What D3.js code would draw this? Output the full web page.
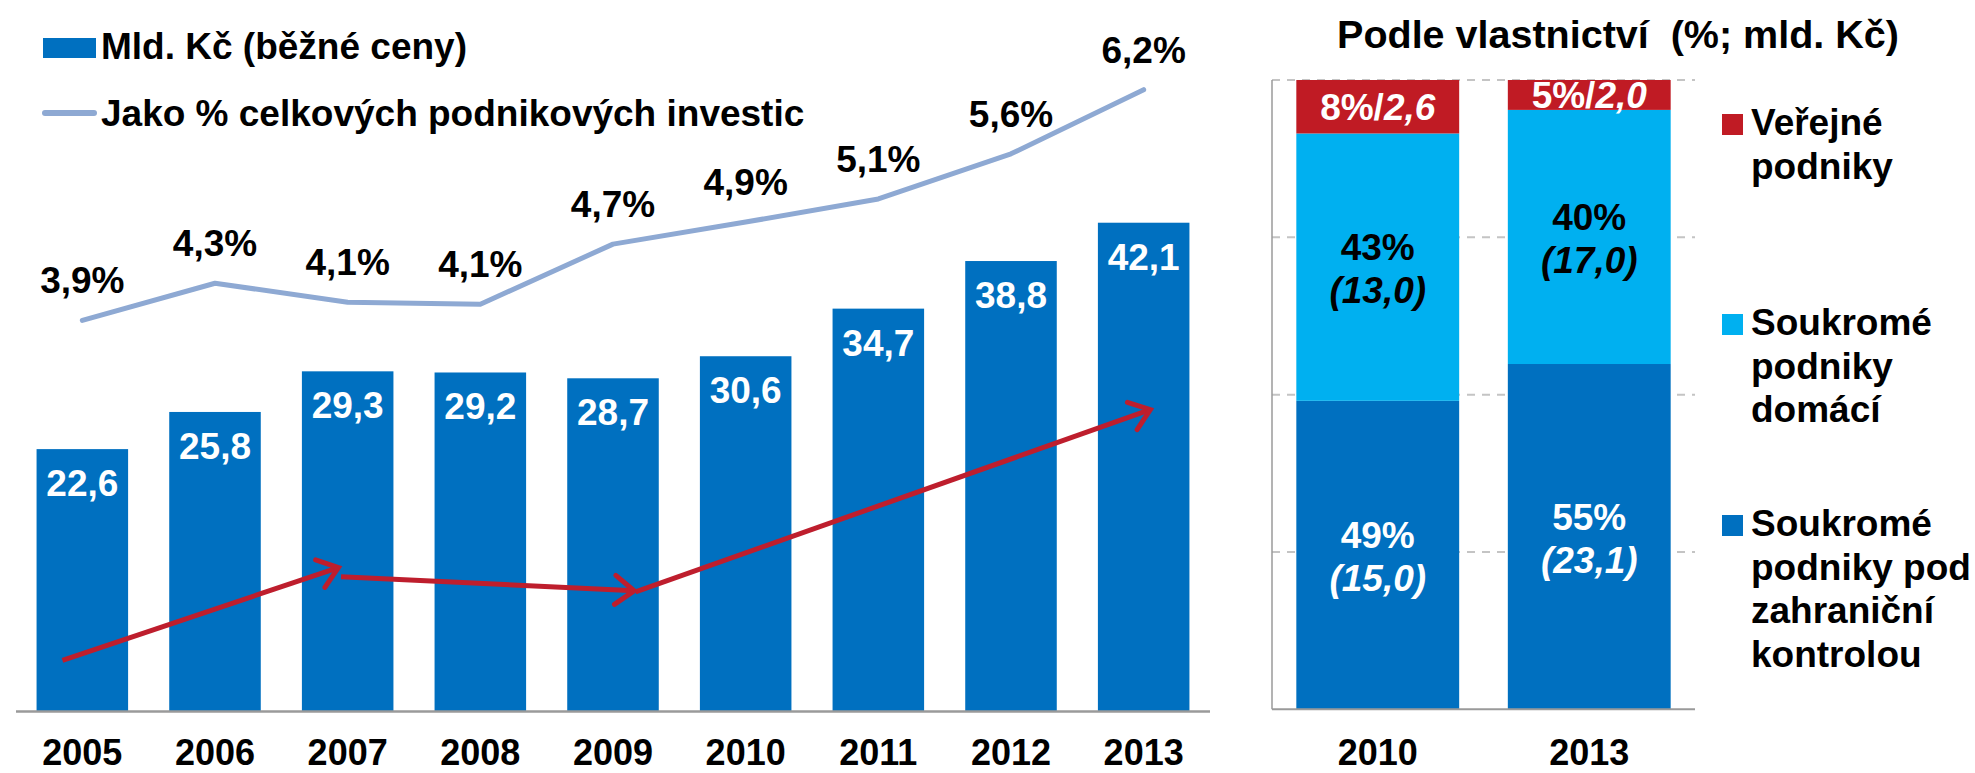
<!DOCTYPE html>
<html lang="cs">
<head>
<meta charset="utf-8">
<title>Investice</title>
<script src="https://d3js.org/d3.v7.min.js"></script>
<style>
  body { margin: 0; background: #fff; }
  svg { display: block; font-family: "Liberation Sans", Arial, sans-serif; font-weight: bold; }
</style>
</head>
<body>
<svg id="chart" width="1975" height="773"></svg>
<script>
// left chart: investment, bn CZK + share of total business investment
var years = ["2005", "2006", "2007", "2008", "2009", "2010", "2011", "2012", "2013"];
var investBn = [22.6, 25.8, 29.3, 29.2, 28.7, 30.6, 34.7, 38.8, 42.1];
var sharePct = [3.9, 4.27, 4.08, 4.06, 4.66, 4.88, 5.11, 5.56, 6.2];
var leftLegend = ["Mld. Kč (běžné ceny)", "Jako % celkových podnikových investic"];

// red trend arrows: [from index, from value, to index, to value] on the bar scale
var trendArrows = [
  [-0.15, 4.4, 1.93, 12.4],
  [1.95, 11.6, 4.16, 10.4],
  [4.17, 10.3, 8.05, 26.0]
];

// right chart: by ownership
var ownYears = ["2010", "2013"];
var ownKeys = ["foreign", "domestic", "public"];
var foreignBn = [15.0, 23.1];
var domesticBn = [13.0, 17.0];
var publicBn = [2.6, 2.0];
var foreignPct = [49, 55];
var domesticPct = [43, 40];
var publicPct = [8, 5];
var gridTicks = [0.25, 0.5, 0.75, 1];
var ownTitle = "Podle vlastnictví\u00a0 (%; mld. Kč)";
var ownLegend = [
  ["Veřejné", "podniky"],
  ["Soukromé", "podniky", "domácí"],
  ["Soukromé", "podniky pod", "zahraniční", "kontrolou"]
];

var BLUE = "#0070C0", CYAN = "#00B0F0", RED = "#C01B24", LINE = "#8EA9D3", ARROW = "#BE1E2D";
var colors = { foreign: BLUE, domestic: CYAN, public: RED };

var svg = d3.select("#chart");
var fmt = function(v) { return v.toFixed(1).replace(".", ","); };

/** left chart */
var base = 711.5;
var x = d3.scaleBand().domain(years).range([16, 1210]).paddingInner(0.31).paddingOuter(0.155);
var y = d3.scaleLinear().domain([0, 45]).range([base, base - 45 * 11.61]);
var yPct = d3.scaleLinear().domain([0, 7]).range([base, base - 7 * 100.3]);
var xIdx = d3.scaleLinear().domain([0, 8])
  .range([x(years[0]) + x.bandwidth() / 2, x(years[8]) + x.bandwidth() / 2]);

var left = svg.append("g");

left.selectAll("rect.bar")
  .data(investBn)
  .enter()
  .append("rect")
  .attr("class", "bar")
  .attr("x", function(d, i) { return x(years[i]); })
  .attr("y", function(d) { return y(d); })
  .attr("width", x.bandwidth())
  .attr("height", function(d) { return base - y(d); })
  .attr("fill", BLUE);

left.selectAll("text.val")
  .data(investBn)
  .enter()
  .append("text")
  .attr("class", "val")
  .attr("x", function(d, i) { return x(years[i]) + x.bandwidth() / 2; })
  .attr("y", function(d) { return y(d) + 47; })
  .attr("text-anchor", "middle")
  .attr("font-size", 37)
  .attr("fill", "#fff")
  .text(fmt);

// axis line + year labels
left.append("line")
  .attr("x1", 16).attr("x2", 1210)
  .attr("y1", base).attr("y2", base)
  .attr("stroke", "#9a9a9a").attr("stroke-width", 2.5);

var xAxis = d3.axisBottom(x).tickSize(0).tickPadding(0);
left.append("g")
  .attr("transform", "translate(0," + base + ")")
  .call(xAxis)
  .call(function(g) {
    g.select(".domain").remove();
    g.selectAll("text")
      .attr("y", 53.5).attr("dy", 0)
      .attr("font-size", 36)
      .attr("font-family", "Liberation Sans, Arial, sans-serif")
      .attr("font-weight", "bold")
      .attr("fill", "#000");
  });

// trend arrows
function drawArrow(g, a) {
  var x1 = xIdx(a[0]), y1 = y(a[1]), x2 = xIdx(a[2]), y2 = y(a[3]);
  var ang = Math.atan2(y2 - y1, x2 - x1);
  var len = 24, spread = 0.65;
  g.append("line")
    .attr("x1", x1).attr("y1", y1).attr("x2", x2).attr("y2", y2)
    .attr("stroke", ARROW).attr("stroke-width", 5);
  var p = d3.path();
  p.moveTo(x2 - len * Math.cos(ang - spread), y2 - len * Math.sin(ang - spread));
  p.lineTo(x2, y2);
  p.lineTo(x2 - len * Math.cos(ang + spread), y2 - len * Math.sin(ang + spread));
  g.append("path")
    .attr("d", p.toString())
    .attr("fill", "none")
    .attr("stroke", ARROW).attr("stroke-width", 5)
    .attr("stroke-linecap", "round").attr("stroke-linejoin", "miter");
}
var arrowG = left.append("g");
trendArrows.forEach(function(a) { drawArrow(arrowG, a); });

// share line
var line = d3.line()
  .x(function(d, i) { return xIdx(i); })
  .y(function(d) { return yPct(d); });
left.append("path")
  .datum(sharePct)
  .attr("d", line)
  .attr("fill", "none")
  .attr("stroke", LINE)
  .attr("stroke-width", 5)
  .attr("stroke-linecap", "round")
  .attr("stroke-linejoin", "round");

left.selectAll("text.pct")
  .data(sharePct)
  .enter()
  .append("text")
  .attr("class", "pct")
  .attr("x", function(d, i) { return xIdx(i); })
  .attr("y", function(d) { return yPct(d) - 27; })
  .attr("text-anchor", "middle")
  .attr("font-size", 37)
  .attr("fill", "#000")
  .text(function(d) { return fmt(d) + "%"; });

// left legend
left.append("rect")
  .attr("x", 43).attr("y", 38).attr("width", 53).attr("height", 20)
  .attr("fill", BLUE);
left.append("line")
  .attr("x1", 45).attr("x2", 94).attr("y1", 113).attr("y2", 113)
  .attr("stroke", LINE).attr("stroke-width", 6).attr("stroke-linecap", "round");
left.selectAll("text.leg")
  .data(leftLegend)
  .enter()
  .append("text")
  .attr("class", "leg")
  .attr("x", 101)
  .attr("y", function(d, i) { return i === 0 ? 59 : 126; })
  .attr("font-size", 37)
  .attr("fill", "#000")
  .text(function(d) { return d; });

/** right chart */
var rBase = 709.3, rTop = 80;
var x2 = d3.scaleBand().domain(ownYears).range([1272, 1695]).paddingInner(0.23).paddingOuter(0.115);
var y2 = d3.scaleLinear().domain([0, 1]).range([rBase, rTop]);

var right = svg.append("g");

right.append("text")
  .attr("x", 1618).attr("y", 48)
  .attr("text-anchor", "middle")
  .attr("font-size", 39.5)
  .attr("fill", "#000")
  .text(ownTitle);

right.selectAll("line.grid")
  .data(gridTicks)
  .enter()
  .append("line")
  .attr("class", "grid")
  .attr("x1", 1272).attr("x2", 1695)
  .attr("y1", function(d) { return y2(d); })
  .attr("y2", function(d) { return y2(d); })
  .attr("stroke", "#c4c4c4")
  .attr("stroke-width", 2)
  .attr("stroke-dasharray", "8,7");

var rows = ownYears.map(function(yr, i) {
  return { year: yr, foreign: foreignBn[i], domestic: domesticBn[i], public: publicBn[i] };
});
var pcts = { foreign: foreignPct, domestic: domesticPct, public: publicPct };
var bns = { foreign: foreignBn, domestic: domesticBn, public: publicBn };
var stacked = d3.stack().keys(ownKeys).offset(d3.stackOffsetExpand)(rows);

var layers = right.selectAll("g.layer")
  .data(stacked)
  .enter()
  .append("g")
  .attr("class", "layer")
  .attr("fill", function(d) { return colors[d.key]; });

layers.selectAll("rect")
  .data(function(d) { return d; })
  .enter()
  .append("rect")
  .attr("x", function(d) { return x2(d.data.year); })
  .attr("y", function(d) { return y2(d[1]); })
  .attr("width", x2.bandwidth())
  .attr("height", function(d) { return y2(d[0]) - y2(d[1]); });

// segment labels
stacked.forEach(function(layer) {
  var key = layer.key;
  layer.forEach(function(d, i) {
    var cx = x2(d.data.year) + x2.bandwidth() / 2;
    var mid = (y2(d[0]) + y2(d[1])) / 2;
    var col = key === "domestic" ? "#000" : "#fff";
    var t = right.append("text")
      .attr("text-anchor", "middle")
      .attr("font-size", 37)
      .attr("fill", col);
    if (key === "public") {
      t.attr("y", mid + 13.5).attr("x", cx);
      t.append("tspan").text(pcts[key][i] + "%/");
      t.append("tspan").attr("font-style", "italic").text(fmt(bns[key][i]));
    } else {
      t.append("tspan").attr("x", cx).attr("y", mid - 7).text(pcts[key][i] + "%");
      t.append("tspan").attr("x", cx).attr("y", mid + 36)
        .attr("font-style", "italic").text("(" + fmt(bns[key][i]) + ")");
    }
  });
});

// axes
right.append("line")
  .attr("x1", 1272).attr("x2", 1272).attr("y1", rTop).attr("y2", rBase)
  .attr("stroke", "#9a9a9a").attr("stroke-width", 1.5);
right.append("line")
  .attr("x1", 1272).attr("x2", 1695).attr("y1", rBase).attr("y2", rBase)
  .attr("stroke", "#9a9a9a").attr("stroke-width", 2);

right.selectAll("text.yr")
  .data(ownYears)
  .enter()
  .append("text")
  .attr("class", "yr")
  .attr("x", function(d) { return x2(d) + x2.bandwidth() / 2; })
  .attr("y", 765)
  .attr("text-anchor", "middle")
  .attr("font-size", 36)
  .attr("fill", "#000")
  .text(function(d) { return d; });

// right legend (top to bottom: public, domestic, foreign)
var legKeys = ["public", "domestic", "foreign"];
var legBase = [135, 335, 536];
legKeys.forEach(function(k, i) {
  right.append("rect")
    .attr("x", 1722).attr("y", legBase[i] - 21)
    .attr("width", 21).attr("height", 21)
    .attr("fill", colors[k]);
  var t = right.append("text")
    .attr("font-size", 37)
    .attr("fill", "#000");
  ownLegend[i].forEach(function(s, j) {
    t.append("tspan").attr("x", 1751).attr("y", legBase[i] + j * 43.5).text(s);
  });
});
</script>
</body>
</html>
